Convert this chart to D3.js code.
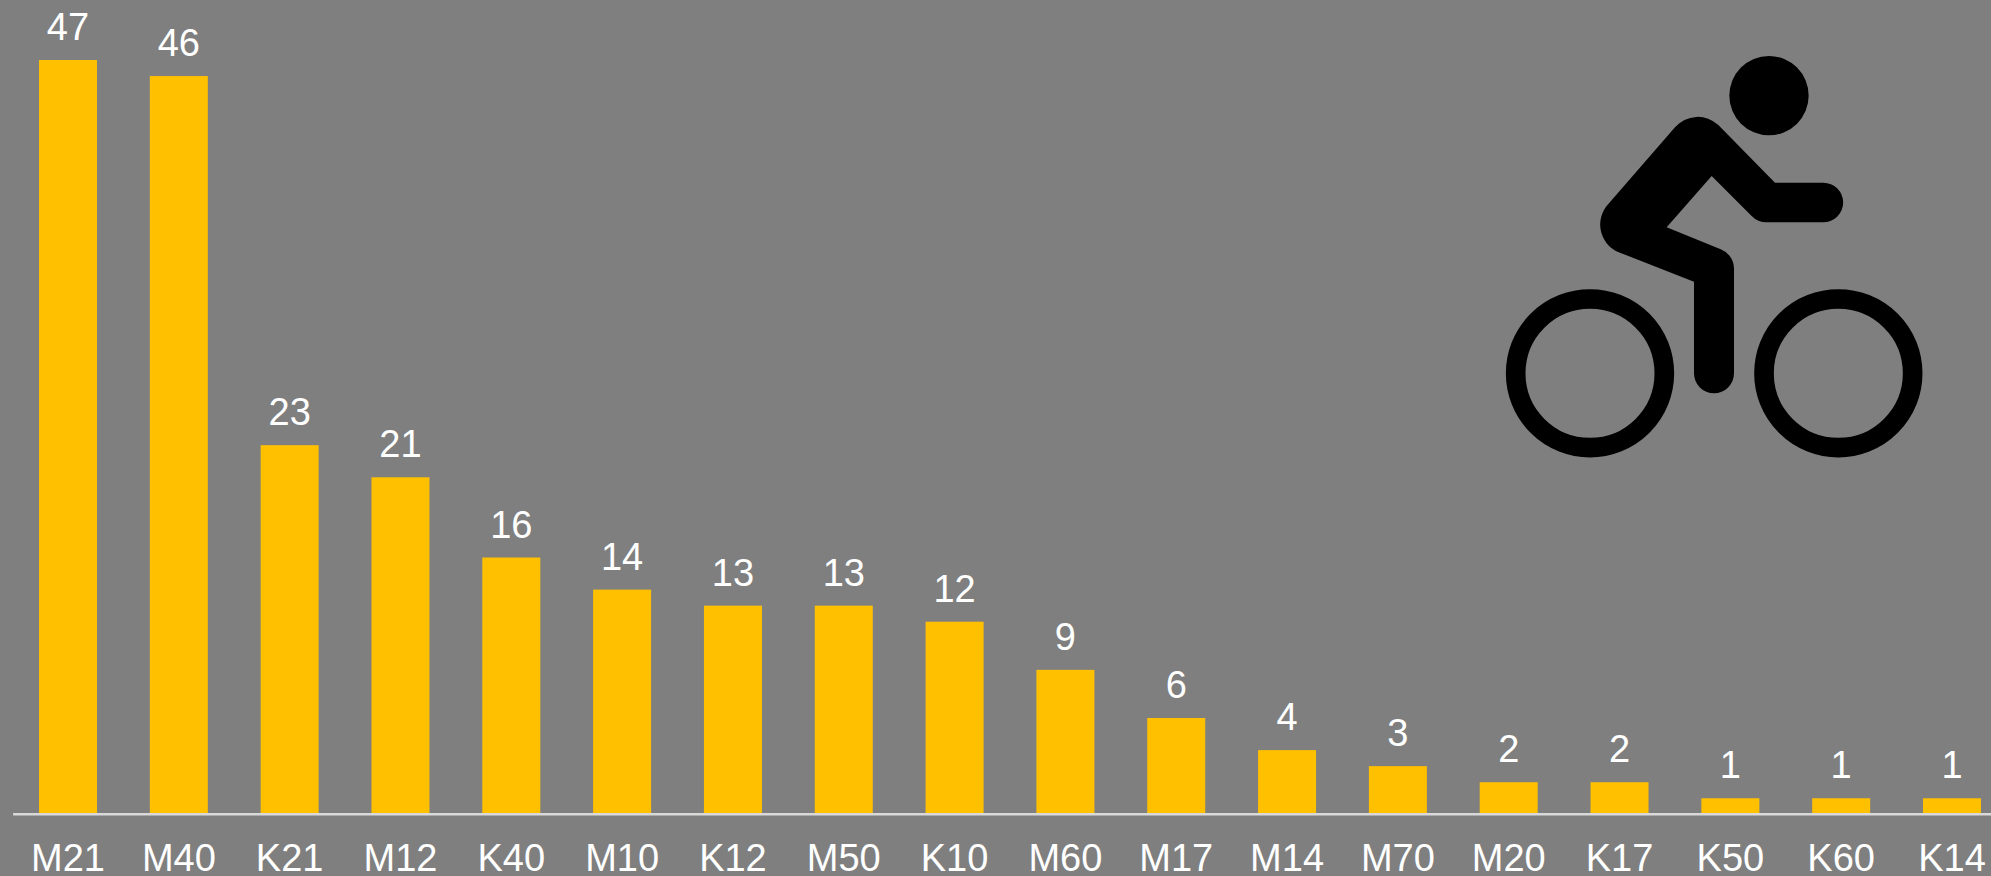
<!DOCTYPE html>
<html>
<head>
<meta charset="utf-8">
<script src="https://cdn.jsdelivr.net/npm/d3@7"></script>
<style>
    html, body { margin: 0; padding: 0; background: #7f7f7f; overflow: hidden; }
    svg { display: block; }
    text { font-family: "Liberation Sans", Arial, sans-serif; font-size: 38px; fill: #fff; }
</style>
</head>
<body>
<div id="chart"></div>
<script>
// Values
const categories = ["M21", "M40", "K21", "M12", "K40", "M10", "K12", "M50", "K10",
                    "M60", "M17", "M14", "M70", "M20", "K17", "K50", "K60", "K14"];
const counts = [47, 46, 23, 21, 16, 14, 13, 13, 12, 9, 6, 4, 3, 2, 2, 1, 1, 1];

const width = 1991;
const height = 876;
const baseline = 814.3;

const svg = d3.select("#chart")
    .append("svg")
    .attr("width", width)
    .attr("height", height);

svg.append("rect")
    .attr("width", width)
    .attr("height", height)
    .attr("fill", "#7f7f7f");

// Scales: the plot runs a little past the right edge of the page
const xScale = d3.scaleBand()
    .domain(categories)
    .range([12.6, 2007.4])
    .paddingInner(0.4766)
    .paddingOuter(0.2383);

const yScale = d3.scaleLinear()
    .domain([0, 47])
    .range([baseline, 60]);

// Bars
svg.selectAll(".bar")
    .data(counts)
    .enter()
    .append("rect")
    .attr("class", "bar")
    .attr("x", (d, i) => xScale(categories[i]))
    .attr("y", d => yScale(d))
    .attr("width", xScale.bandwidth())
    .attr("height", d => baseline - yScale(d))
    .attr("fill", "#ffc000");

// Value labels
svg.selectAll(".value")
    .data(counts)
    .enter()
    .append("text")
    .attr("class", "value")
    .attr("x", (d, i) => xScale(categories[i]) + xScale.bandwidth() / 2)
    .attr("y", d => yScale(d) - 20)
    .style("text-anchor", "middle")
    .text(d => d);

// Category axis
const xAxis = svg.append("g")
    .attr("transform", `translate(0, ${baseline - 0.5})`)
    .call(d3.axisBottom(xScale).tickSize(0).tickSizeOuter(0));

xAxis.select(".domain")
    .attr("stroke", "#d9d9d9")
    .attr("stroke-width", 2.5);

xAxis.selectAll("text")
    .attr("y", 57)
    .attr("dy", 0)
    .style("font-size", "38px")
    .style("font-family", '"Liberation Sans", Arial, sans-serif')
    .attr("fill", "#fff");

// Cyclist icon
const icon = svg.append("g")
    .attr("transform", "translate(1480, 30) scale(0.33333)");

icon.append("circle")
    .attr("cx", 867).attr("cy", 197).attr("r", 119)
    .attr("fill", "#000");

icon.append("path")
    .attr("d", "M585 292 A90 90 0 0 1 715 285 L885 458 L1030 458 A59.5 59.5 0 0 1 1030 577 L860 577 A62 62 0 0 1 815 558 L695 438 L560 592 L722 658 A62 62 0 0 1 762 715 L762 1030 A60 60 0 0 1 642 1030 L642 755 L412 665 A90 90 0 0 1 385 522 Z")
    .attr("fill", "#000");

[330, 1075].forEach(function(cx) {
    icon.append("circle")
        .attr("cx", cx).attr("cy", 1030).attr("r", 223)
        .attr("fill", "none")
        .attr("stroke", "#000")
        .attr("stroke-width", 59);
});
</script>
</body>
</html>
